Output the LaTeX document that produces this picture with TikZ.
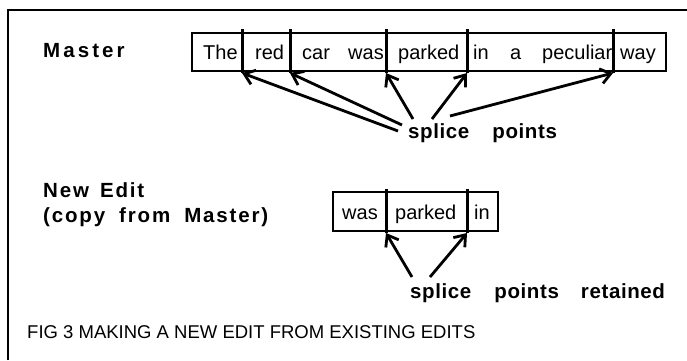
\documentclass[tikz,border=0pt]{standalone}
\usepackage{fontspec}
\setmainfont{Liberation Sans}
\newfontfamily\splfont{Liberation Sans}[LetterSpace=3]
\newfontfamily\lblfont{Liberation Sans}[LetterSpace=9]
\newfontfamily\mstfont{Liberation Sans}[LetterSpace=15]
\usetikzlibrary{arrows.meta}
\begin{document}
\begin{tikzpicture}[x=1pt,y=-1pt,
  word/.style={anchor=base west,inner sep=0pt,font=\fontsize{20}{24}\selectfont},
  lbl/.style={anchor=base west,inner sep=0pt,font=\lblfont\bfseries\fontsize{20.5}{24}\selectfont},
  spl/.style={anchor=base west,inner sep=0pt,font=\splfont\bfseries\fontsize{20.5}{24}\selectfont},
  mst/.style={anchor=base west,inner sep=0pt,font=\mstfont\bfseries\fontsize{20.5}{24}\selectfont},
  caption/.style={anchor=base west,inner sep=0pt,font=\fontsize{18.5}{22}\selectfont},
  frame/.style={draw,line width=1.4pt,inner sep=0pt},
  divider/.style={line width=3pt},
  border/.style={line width=1.4pt},
  arr/.style={line width=2.8pt,-{Straight Barb[length=10pt,width=15pt,line width=2.8pt]}}]
\useasboundingbox (0,0) rectangle (687,360);
% border
\coordinate (bl) at (8,360);
\coordinate (tl) at (8,10);
\coordinate (tr) at (687,10);
\draw[border] (bl) -- (tl) -- (tr);

% labels
\node[mst] (mlabel) at (43,57) {Master};
\node[lbl] (nlabel) at (43,197) {New\hspace{11pt}Edit};
\node[lbl] (clabel) at (43,222) {(copy\hspace{14pt}from\hspace{14pt}Master)};

% master frame
\node[frame,minimum width=474pt,minimum height=38pt] (master) at (429,52) {};
\node[word] (w1) at (203,59) {The};
\node[word] (w2) at (255,59) {red};
\node[word] (w3) at (302,59) {car};
\node[word] (w4) at (348,59) {was};
\node[word] (w5) at (398,59) {parked};
\node[word] (w6) at (473,59) {in};
\node[word] (w7) at (510,59) {a};
\node[word] (w8) at (542,59) {peculiar};
\node[word] (w9) at (620,59) {way};
\foreach \x/\n in {242/1,290/2,386/3,467/4,613/5}{
  \coordinate (mt\n) at (\x,29);
  \coordinate (mb\n) at (\x,73);
  \draw[divider] (mt\n) -- (mb\n);
}
\node[spl] (splice) at (408,138) {splice\hspace{23pt}points};
\coordinate (s1) at (398,131);
\coordinate (s2) at (402,125);
\coordinate (s3) at (413,119);
\coordinate (s4) at (432,119);
\coordinate (s5) at (450,116);
\foreach \n in {1,...,5}{ \draw[arr] (s\n) -- (mb\n); }

% new edit frame
\node[frame,minimum width=165pt,minimum height=39pt] (newedit) at (415.5,211.5) {};
\node[word] (n1) at (342,219) {was};
\node[word] (n2) at (395,219) {parked};
\node[word] (n3) at (474,219) {in};
\foreach \x/\n in {386/1,467/2}{
  \coordinate (nt\n) at (\x,189);
  \coordinate (nb\n) at (\x,233);
  \draw[divider] (nt\n) -- (nb\n);
}
\node[spl] (retained) at (410,298) {splice\hspace{23pt}points\hspace{22pt}retained};
\coordinate (r1) at (412,277);
\coordinate (r2) at (430,277);
\draw[arr] (r1) -- (nb1);
\draw[arr] (r2) -- (nb2);

% caption
\node[caption] (cap) at (27,338) {FIG 3 MAKING A NEW EDIT FROM EXISTING EDITS};
\end{tikzpicture}
\end{document}
